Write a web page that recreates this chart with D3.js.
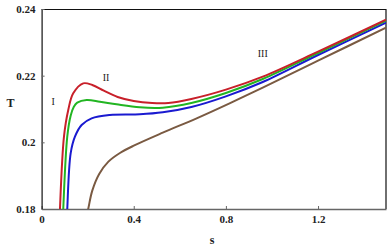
<!DOCTYPE html>
<meta charset="utf-8">
<style>
body { margin: 0; background: #fff; }
svg text { font-family: "Liberation Serif", "Times New Roman", serif; font-weight: bold; fill: #222; }
.tick text { font-size: 11px; }
</style>
<body>
<script src="https://d3js.org/d3.v7.min.js"></script>
<script>
var margin = {top: 9, right: 2, bottom: 40, left: 41.6},
    width = 388 - margin.left - margin.right,
    height = 249 - margin.top - margin.bottom;

// curves: [s, T]
var curveI = [[0.076,0.172],[0.0797,0.18],[0.0971,0.2017],[0.1157,0.2097],[0.1373,0.2147],[0.1807,0.2177],[0.22,0.2172],
  [0.27,0.2155],[0.33,0.2136],[0.40,0.2124],[0.48,0.2118],[0.55,0.2118],[0.65,0.2130],[0.8,0.2158],[0.96,0.2197],
  [1.2,0.2272],[1.495,0.2368]];
var curveII = [[0.090,0.172],[0.094,0.18],[0.1114,0.2017],[0.1261,0.2080],[0.14,0.2107],[0.1547,0.2119],[0.1954,0.2127],
  [0.253,0.2122],[0.3254,0.2114],[0.4263,0.2105],[0.526,0.2104],[0.65,0.2118],[0.8,0.2148],[0.96,0.2190],
  [1.2,0.2268],[1.495,0.2365]];
var curveIII = [[0.107,0.172],[0.1114,0.18],[0.1261,0.1967],[0.1447,0.2017],[0.1737,0.2052],[0.2171,0.2072],[0.2964,0.2082],
  [0.4263,0.2084],[0.526,0.2090],[0.65,0.2106],[0.8,0.2138],[0.96,0.2181],[1.2,0.2262],[1.495,0.2359]];
var curveIV = [[0.19,0.176],[0.2023,0.18],[0.22,0.1855],[0.25,0.1905],[0.29,0.1942],[0.34,0.1968],[0.40,0.1990],
  [0.526,0.2029],[0.673,0.2072],[0.816,0.2117],[0.96,0.2164],[1.2,0.2245],[1.495,0.2344]];
var colors = ["#c8202a", "#22b522", "#1a1ad0", "#7a5a42"];
var xTicks = [0, 0.4, 0.8, 1.2];
var yTicks = [0.18, 0.2, 0.22, 0.24];
var labels = [["I", 0.05, 0.2112], ["II", 0.28, 0.2185], ["III", 0.96, 0.2255]];

var x = d3.scaleLinear().domain([0, 1.495]).range([0, width]);
var y = d3.scaleLinear().domain([0.18, 0.24]).range([height, 0]);

var svg = d3.select("body").append("svg")
    .attr("width", 388).attr("height", 249)
  .append("g")
    .attr("transform", "translate(" + margin.left + "," + margin.top + ")");

svg.append("clipPath").attr("id", "clip")
  .append("rect").attr("width", width).attr("height", height);

// frame top and right
svg.append("path")
    .attr("d", "M0,0.5H" + width + "V" + height)
    .attr("fill", "none").attr("stroke", "#111").attr("stroke-width", 1.2);

var xAxis = svg.append("g")
    .attr("transform", "translate(0," + height + ")")
    .call(d3.axisBottom(x).tickValues(xTicks).tickSizeInner(-3).tickSizeOuter(0).tickPadding(6)
      .tickFormat(function(d) { return d === 0 ? "0" : d3.format(".1f")(d); }));
xAxis.select(".domain").attr("stroke", "#666").attr("stroke-width", 1.5);
xAxis.selectAll(".tick line").attr("stroke", "#666");

var yAxis = svg.append("g")
    .call(d3.axisLeft(y).tickValues(yTicks).tickSizeInner(-3).tickSizeOuter(0).tickPadding(6)
      .tickFormat(function(d) { return d === 0.2 ? "0.2" : d3.format(".2f")(d); }));
yAxis.select(".domain").attr("stroke", "#111").attr("stroke-width", 1.2);
yAxis.selectAll(".tick line").attr("stroke", "#666");

var line = d3.line()
    .x(function(d) { return x(d[0]); })
    .y(function(d) { return y(d[1]); })
    .curve(d3.curveCatmullRom.alpha(0.5));

svg.append("g").attr("clip-path", "url(#clip)")
  .selectAll("path")
  .data([curveIV, curveIII, curveII, curveI])
  .enter().append("path")
    .attr("d", line)
    .attr("fill", "none")
    .attr("stroke", function(d, i) { return colors[3 - i]; })
    .attr("stroke-width", 2);

svg.selectAll(".lbl")
  .data(labels)
  .enter().append("text")
    .attr("class", "lbl")
    .attr("x", function(d) { return x(d[1]); })
    .attr("y", function(d) { return y(d[2]); })
    .attr("text-anchor", "middle")
    .style("font-size", "10px").style("font-weight", "normal")
    .text(function(d) { return d[0]; });

svg.append("text")
    .attr("x", -35).attr("y", y(0.2105))
    .style("font-size", "12px")
    .text("T");

svg.append("text")
    .attr("x", x(0.74)).attr("y", height + 35)
    .attr("text-anchor", "middle")
    .style("font-size", "12px")
    .text("s");
</script>
</body>
